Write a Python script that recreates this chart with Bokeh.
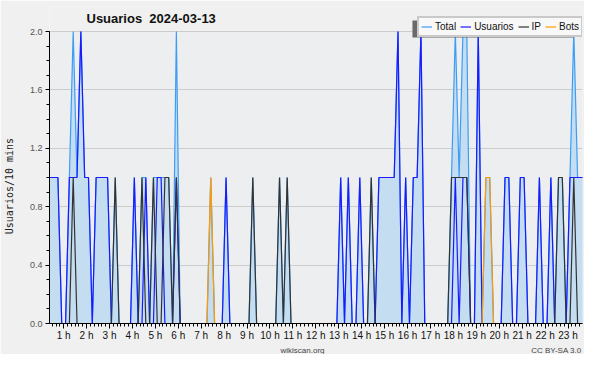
from bokeh.plotting import figure
from bokeh.models import (Range1d, FixedTicker, Legend, LegendItem, Title, Label,
                          BoxAnnotation, ColumnDataSource)
from bokeh.embed import file_html
from bokeh.resources import INLINE

# 10-minute bins, one row per hour (6 bins per row); bin k is drawn at its centre
total = [
    1, 1, 1, 1, 1, 0,   # 0 h
    0, 1, 2, 1, 2, 1,   # 1 h
    1, 0, 1, 1, 1, 1,   # 2 h
    0, 1, 0, 0, 0, 0,   # 3 h
    1, 0, 1, 1, 0, 1,   # 4 h
    1, 1, 1, 1, 0, 2,   # 5 h
    0, 0, 0, 0, 0, 0,   # 6 h
    0, 0, 1, 0, 0, 0,   # 7 h
    1, 0, 0, 0, 0, 0,   # 8 h
    0, 1, 0, 0, 0, 0,   # 9 h
    0, 0, 1, 0, 1, 0,   # 10 h
    0, 0, 0, 0, 0, 0,   # 11 h
    0, 0, 0, 0, 0, 0,   # 12 h
    1, 0, 1, 0, 0, 1,   # 13 h
    0, 0, 1, 0, 1, 1,   # 14 h
    1, 1, 1, 2, 0, 1,   # 15 h
    0, 1, 1, 2, 0, 0,   # 16 h
    0, 0, 0, 0, 0, 1,   # 17 h
    2, 1, 2, 2, 0, 0,   # 18 h
    2, 0, 1, 1, 0, 0,   # 19 h
    0, 1, 1, 0, 0, 1,   # 20 h
    1, 0, 0, 0, 1, 0,   # 21 h
    0, 1, 0, 1, 1, 0,   # 22 h
    1, 2, 1, 1, 1, 1,   # 23 h
]
usuarios = [
    1, 1, 1, 1, 1, 0,   # 0 h
    0, 1, 1, 1, 2, 1,   # 1 h
    1, 0, 1, 1, 1, 1,   # 2 h
    0, 0, 0, 0, 0, 0,   # 3 h
    1, 0, 0, 1, 0, 0,   # 4 h
    1, 1, 0, 0, 0, 1,   # 5 h
    0, 0, 0, 0, 0, 0,   # 6 h
    0, 0, 0, 0, 0, 0,   # 7 h
    1, 0, 0, 0, 0, 0,   # 8 h
    0, 0, 0, 0, 0, 0,   # 9 h
    0, 0, 0, 0, 0, 0,   # 10 h
    0, 0, 0, 0, 0, 0,   # 11 h
    0, 0, 0, 0, 0, 0,   # 12 h
    1, 0, 1, 0, 0, 1,   # 13 h
    0, 0, 0, 0, 1, 1,   # 14 h
    1, 1, 1, 2, 0, 1,   # 15 h
    0, 1, 1, 2, 0, 0,   # 16 h
    0, 0, 0, 0, 0, 0,   # 17 h
    1, 0, 1, 1, 0, 0,   # 18 h
    2, 0, 0, 0, 0, 0,   # 19 h
    0, 1, 1, 0, 0, 1,   # 20 h
    1, 0, 0, 0, 1, 0,   # 21 h
    0, 1, 0, 0, 0, 0,   # 22 h
    1, 1, 1, 1, 1, 1,   # 23 h
]
ip = [
    0, 0, 0, 0, 0, 0,   # 0 h
    0, 0, 1, 0, 0, 0,   # 1 h
    0, 0, 0, 0, 0, 0,   # 2 h
    0, 1, 0, 0, 0, 0,   # 3 h
    0, 0, 1, 0, 0, 1,   # 4 h
    0, 0, 1, 1, 0, 1,   # 5 h
    0, 0, 0, 0, 0, 0,   # 6 h
    0, 0, 0, 0, 0, 0,   # 7 h
    0, 0, 0, 0, 0, 0,   # 8 h
    0, 1, 0, 0, 0, 0,   # 9 h
    0, 0, 1, 0, 1, 0,   # 10 h
    0, 0, 0, 0, 0, 0,   # 11 h
    0, 0, 0, 0, 0, 0,   # 12 h
    0, 0, 0, 0, 0, 0,   # 13 h
    0, 0, 1, 0, 0, 0,   # 14 h
    0, 0, 0, 0, 0, 0,   # 15 h
    0, 0, 0, 0, 0, 0,   # 16 h
    0, 0, 0, 0, 0, 1,   # 17 h
    1, 1, 1, 1, 0, 0,   # 18 h
    0, 0, 0, 0, 0, 0,   # 19 h
    0, 0, 0, 0, 0, 0,   # 20 h
    0, 0, 0, 0, 0, 0,   # 21 h
    0, 0, 0, 1, 1, 0,   # 22 h
    0, 1, 0, 0, 0, 0,   # 23 h
]
bots = [
    0, 0, 0, 0, 0, 0,   # 0 h
    0, 0, 0, 0, 0, 0,   # 1 h
    0, 0, 0, 0, 0, 0,   # 2 h
    0, 0, 0, 0, 0, 0,   # 3 h
    0, 0, 0, 0, 0, 0,   # 4 h
    0, 0, 0, 0, 0, 0,   # 5 h
    0, 0, 0, 0, 0, 0,   # 6 h
    0, 0, 1, 0, 0, 0,   # 7 h
    0, 0, 0, 0, 0, 0,   # 8 h
    0, 0, 0, 0, 0, 0,   # 9 h
    0, 0, 0, 0, 0, 0,   # 10 h
    0, 0, 0, 0, 0, 0,   # 11 h
    0, 0, 0, 0, 0, 0,   # 12 h
    0, 0, 0, 0, 0, 0,   # 13 h
    0, 0, 0, 0, 0, 0,   # 14 h
    0, 0, 0, 0, 0, 0,   # 15 h
    0, 0, 0, 0, 0, 0,   # 16 h
    0, 0, 0, 0, 0, 0,   # 17 h
    0, 0, 0, 0, 0, 0,   # 18 h
    0, 0, 1, 1, 0, 0,   # 19 h
    0, 0, 0, 0, 0, 0,   # 20 h
    0, 0, 0, 0, 0, 0,   # 21 h
    0, 0, 0, 0, 0, 0,   # 22 h
    0, 0, 0, 0, 0, 0,   # 23 h
]
hora = [(10 * k + 5) / 60 for k in range(len(total))]   # bin centres, in hours

y_ticks = [0.0, 0.4, 0.8, 1.2, 1.6, 2.0]
y_tick_labels = ["0.0", "0.4", "0.8", "1.2", "1.6", "2.0"]
x_ticks = list(range(1, 24))
x_tick_labels = [f"{h} h" for h in x_ticks]

src = ColumnDataSource(dict(x=hora, total=total, usuarios=usuarios, ip=ip,
                            bots=bots, zero=[0] * len(hora)))

FONT = "Liberation Sans"
NB = "\u00a0"

# frame: x 46..582, y 6..323 ; value 2.0 sits at y=31
X0, X1 = 0.383, 23.63
FRAME_LEFT, FRAME_RIGHT = 46, 582
FRAME_TOP, FRAME_BOTTOM, Y2 = 6, 323, 31
y_end = 2 * (FRAME_BOTTOM - FRAME_TOP) / (FRAME_BOTTOM - Y2)


def px_to_x(px):
    return X0 + (px - FRAME_LEFT) * (X1 - X0) / (FRAME_RIGHT - FRAME_LEFT)


def py_to_y(py):
    return (FRAME_BOTTOM - py) * 2 / (FRAME_BOTTOM - Y2)


p = figure(width=584, height=354, output_backend="svg", toolbar_location=None,
           x_range=Range1d(X0, X1), y_range=Range1d(0, y_end),
           title_location=None,
           min_border_left=FRAME_LEFT, min_border_right=584 - FRAME_RIGHT,
           min_border_top=FRAME_TOP, min_border_bottom=354 - FRAME_BOTTOM)
p.border_fill_color = "#f0f0f0"
p.background_fill_color = "#f0f0f0"
p.outline_line_color = None

# plotting area proper (0..2)
p.add_layout(BoxAnnotation(bottom=0, top=2, fill_color="#eceef0", fill_alpha=1.0,
                           line_color=None, level="image"))

p.varea(x="x", y1="zero", y2="total", source=src, fill_color="#c5ddf0", fill_alpha=1.0)
r_total = p.line("x", "total", source=src, line_color="#3d9df5", line_width=1.2)
r_usr = p.line("x", "usuarios", source=src, line_color="#1a1aff", line_width=1.2)
r_ip = p.line("x", "ip", source=src, line_color="#333333", line_width=1.2)
r_bots = p.line("x", "bots", source=src, line_color="#ff9900", line_width=1.2)

# x axis
xa = p.xaxis[0]
xa.ticker = FixedTicker(ticks=x_ticks, minor_ticks=[k / 6 for k in range(145)])
xa.major_label_overrides = dict(zip(x_ticks, x_tick_labels))
xa.major_label_text_align = "left"
xa.major_label_text_font = FONT
xa.major_label_text_font_size = "10px"
xa.major_label_text_color = "#111111"
xa.major_label_standoff = 1
xa.major_tick_out = 5
xa.major_tick_in = 0
xa.minor_tick_out = 3
xa.minor_tick_in = 0
xa.axis_line_color = "black"
xa.major_tick_line_color = "black"
xa.minor_tick_line_color = "black"

# y axis
ya = p.yaxis[0]
ya.bounds = (0, 2)
ya.ticker = FixedTicker(ticks=y_ticks, minor_ticks=[i / 10 for i in range(21)])
ya.major_label_overrides = dict(zip(y_ticks, y_tick_labels))
ya.major_label_text_font = FONT
ya.major_label_text_font_size = "9px"
ya.major_label_text_color = "#555555"
ya.major_label_standoff = 3
ya.major_tick_out = 4
ya.major_tick_in = 0
ya.minor_tick_out = 3
ya.minor_tick_in = 0
ya.axis_line_color = "black"
ya.axis_label = "Usuarios/10 mins" + NB * 7
ya.axis_label_text_font = "DejaVu Sans Mono"
ya.axis_label_text_font_size = "10px"
ya.axis_label_text_font_style = "normal"
ya.axis_label_text_color = "#222222"
ya.axis_label_standoff = 12

p.xgrid.grid_line_color = None
p.ygrid.ticker = FixedTicker(ticks=y_ticks)
p.ygrid.grid_line_color = "#cccccc"
p.ygrid.grid_line_width = 1

# chart title, drawn inside the (taller) frame above the 2.0 line
p.add_layout(Label(x=37, y=FRAME_BOTTOM - 18, x_units="screen", y_units="screen",
                   text="Usuarios" + NB + NB + "2024-03-13", text_font=FONT,
                   text_font_style="bold", text_font_size="13px",
                   text_color="#111111", text_baseline="alphabetic"))

# legend shadow (offset to the left and down) and legend
p.add_layout(BoxAnnotation(left=px_to_x(411), right=px_to_x(573),
                           top=py_to_y(20), bottom=py_to_y(37),
                           fill_color="#6a6a6a", fill_alpha=1.0, line_color=None))
legend = Legend(items=[LegendItem(label="Total", renderers=[r_total]),
                       LegendItem(label="Usuarios", renderers=[r_usr]),
                       LegendItem(label="IP", renderers=[r_ip]),
                       LegendItem(label="Bots", renderers=[r_bots])],
                orientation="horizontal", location=(368, FRAME_BOTTOM - 37),
                label_text_font=FONT, label_text_font_size="10px",
                label_text_color="#111111", label_width=0,
                glyph_width=11, glyph_height=13, label_height=13,
                label_standoff=3, spacing=4, padding=2, margin=0,
                background_fill_color="#f8f8f8", background_fill_alpha=1.0,
                border_line_color="#999999", border_line_width=2)
p.add_layout(legend, "center")

# footer: site name and licence on one line
footer = "wikiscan.org" + NB * 93 + "CC BY-SA 3.0"
p.add_layout(Title(text=footer, align="left", offset=231, text_font=FONT,
                   text_font_style="normal", text_font_size="8px",
                   text_color="#444444", standoff=0), "below")

open("out.html", "w").write(file_html(p, INLINE))
